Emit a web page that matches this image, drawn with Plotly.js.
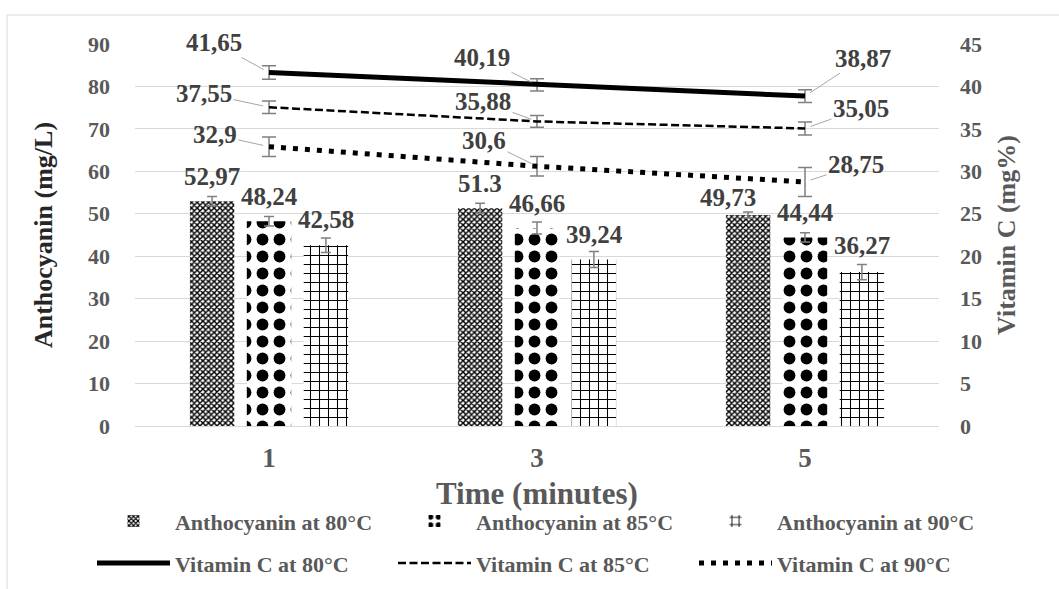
<!DOCTYPE html>
<html><head><meta charset="utf-8">
<script src="https://cdn.plot.ly/plotly-3.0.1.min.js"></script>
<style>html,body{margin:0;padding:0;background:#fff;} #chart{width:1059px;height:589px;}</style>
</head><body><div id="chart"></div>
<script>
// ---- data ----
const times = ['1', '3', '5'];
const xTitle = 'Time (minutes)';
const anthoNames = ['Anthocyanin at 80°C', 'Anthocyanin at 85°C', 'Anthocyanin at 90°C'];
const vitNames = ['Vitamin C at 80°C', 'Vitamin C at 85°C', 'Vitamin C at 90°C'];

const antho80 = [52.97, 51.3, 49.73];
const antho85 = [48.24, 46.66, 44.44];
const antho90 = [42.58, 39.24, 36.27];
const antho80Err = [1.1, 1.2, 0.7];
const antho85Err = [1.1, 1.4, 1.1];
const antho90Err = [1.7, 1.9, 1.8];
const antho80Labels = ['52,97', '51.3', '49,73'];
const antho85Labels = ['48,24', '46,66', '44,44'];
const antho90Labels = ['42,58', '39,24', '36,27'];

const vit80 = [41.65, 40.19, 38.87];
const vit85 = [37.55, 35.88, 35.05];
const vit90 = [32.9, 30.6, 28.75];
const vit80Err = [0.8, 0.73, 0.75];
const vit85Err = [0.75, 0.7, 0.77];
const vit90Err = [1.15, 1.15, 1.7];
const vit80Labels = ['41,65', '40,19', '38,87'];
const vit85Labels = ['37,55', '35,88', '35,05'];
const vit90Labels = ['32,9', '30,6', '28,75'];

// ---- styling ----
const FONT = 'Liberation Serif, Times New Roman, serif';
const GRAY = '#595959';
const LABEL = '#404040';
const ERR = '#808080';

const anthoValues = [antho80, antho85, antho90];
const anthoErrs = [antho80Err, antho85Err, antho90Err];
const anthoLabels = [antho80Labels, antho85Labels, antho90Labels];
const patterns = [
  {shape: 'x', size: 4, solidity: 0.6},
  {shape: '.', size: 17, solidity: 0.38},
  {shape: '+', size: 9, solidity: 0.22}
];

const vitValues = [vit80, vit85, vit90];
const vitErrs = [vit80Err, vit85Err, vit90Err];
const vitLabels = [vit80Labels, vit85Labels, vit90Labels];
const vitLines = [
  {width: 5, dash: 'solid'},
  {width: 2.5, dash: '8px,3.5px'},
  {width: 5, dash: '5px,7px'}
];

// one legend column per temperature: bar on top, line below
const legendIds = ['legend', 'legend2', 'legend3'];

const traces = [];
anthoValues.forEach((vals, i) => {
  traces.push({
    type: 'bar', name: anthoNames[i], x: times, y: vals, yaxis: 'y',
    legend: legendIds[i], legendgroup: 'bars' + i, legendrank: 1,
    marker: {color: 'white', line: {width: 0},
      pattern: Object.assign({fgcolor: 'black', bgcolor: 'white', fillmode: 'replace'}, patterns[i])},
    error_y: {type: 'data', array: anthoErrs[i], visible: true, color: ERR, thickness: 1.5, width: 5},
    hoverinfo: 'skip'
  });
});
vitValues.forEach((vals, i) => {
  traces.push({
    type: 'scatter', mode: 'lines', name: vitNames[i], x: times, y: vals, yaxis: 'y2',
    legend: legendIds[i], legendgroup: 'lines' + i, legendrank: 2,
    line: {color: 'black', width: vitLines[i].width, dash: vitLines[i].dash},
    error_y: {type: 'data', array: vitErrs[i], visible: true, color: ERR, thickness: 1.5, width: 7},
    hoverinfo: 'skip'
  });
});

// label placement (pixels)
const barShift = [-57, 0, 57];
const barLabelDx = [[0, 0, -20], [0, 0, 0], [0, 0, 0]];
const barLabelDy = [[25, 25, 17], [25, 24, 25], [26, 25, 27]];
const vitAx = [[-55, -55, 58], [-65, -54, 56], [-54, -53, 51]];
const vitAy = [[-30, -27, -38], [-14, -20, -20], [-12, -26, -17]];

const annotations = [];
anthoValues.forEach((vals, i) => {
  vals.forEach((v, j) => {
    annotations.push({
      x: j, y: v, xref: 'x', yref: 'y', text: anthoLabels[i][j], showarrow: false,
      xshift: barShift[i] + barLabelDx[i][j], yshift: barLabelDy[i][j], yanchor: 'middle',
      font: {family: FONT, size: 25, color: LABEL, weight: 'bold'}
    });
  });
});
vitValues.forEach((vals, i) => {
  vals.forEach((v, j) => {
    annotations.push({
      x: j, y: v, xref: 'x', yref: 'y2', text: vitLabels[i][j], showarrow: true,
      arrowhead: 0, arrowwidth: 1, arrowcolor: '#a6a6a6', standoff: 6,
      ax: vitAx[i][j], ay: vitAy[i][j],
      font: {family: FONT, size: 25, color: LABEL, weight: 'bold'}
    });
  });
});
// x-axis title, placed as a paper annotation below the tick labels
annotations.push({
  x: 0.5, y: -0.1755, xref: 'paper', yref: 'paper', text: xTitle, showarrow: false,
  xanchor: 'center', yanchor: 'middle',
  font: {family: FONT, size: 31, color: GRAY, weight: 'bold'}
});

const legendX = [-0.0535, 0.3209, 0.6953];
function legendAt(k) {
  return {
    orientation: 'v', xref: 'paper', yref: 'container', x: legendX[k], xanchor: 'left',
    y: 0.1508, yanchor: 'top', traceorder: 'grouped', tracegroupgap: 10.4,
    itemwidth: 73, bgcolor: 'rgba(0,0,0,0)', borderwidth: 0,
    font: {family: FONT, size: 22, color: GRAY, weight: 'bold'}
  };
}

const layout = {
  width: 1059, height: 589,
  margin: {l: 135, r: 120, t: 44, b: 163},
  paper_bgcolor: '#ffffff', plot_bgcolor: '#ffffff',
  barmode: 'group', bargap: 0.363, bargroupgap: 0.22,
  font: {family: FONT, color: GRAY, weight: 'bold'},
  showlegend: true,
  xaxis: {
    type: 'category', range: [-0.5, 2.5], showgrid: false, showline: true, linecolor: '#d9d9d9', linewidth: 1,
    ticks: '', ticklabelstandoff: 8,
    tickfont: {family: FONT, size: 27, color: GRAY, weight: 'bold'}
  },
  yaxis: {
    range: [0, 90], dtick: 10, showgrid: true, gridcolor: '#d9d9d9', zeroline: false, ticks: '',
    ticklabelstandoff: 24,
    tickfont: {family: FONT, size: 22, color: GRAY, weight: 'bold'},
    title: {text: 'Anthocyanin (mg/L)', standoff: 27, font: {family: FONT, size: 26, color: '#262626', weight: 'bold'}}
  },
  yaxis2: {
    overlaying: 'y', side: 'right', range: [0, 45], dtick: 5, showgrid: false, zeroline: false, ticks: '',
    ticklabelstandoff: 20,
    tickfont: {family: FONT, size: 22, color: GRAY, weight: 'bold'},
    title: {text: 'Vitamin C (mg%)', standoff: 15, font: {family: FONT, size: 26, color: GRAY, weight: 'bold'}}
  },
  legend: legendAt(0),
  legend2: legendAt(1),
  legend3: legendAt(2),
  shapes: [
    {type: 'rect', xref: 'paper', yref: 'paper', x0: -0.1592, x1: 1.3, y0: -0.6, y1: 1.0759,
     line: {color: '#d9d9d9', width: 1}, fillcolor: 'rgba(0,0,0,0)', layer: 'below'}
  ],
  annotations: annotations
};

Plotly.newPlot('chart', traces, layout, {staticPlot: true, displayModeBar: false});
</script>
</body></html>
